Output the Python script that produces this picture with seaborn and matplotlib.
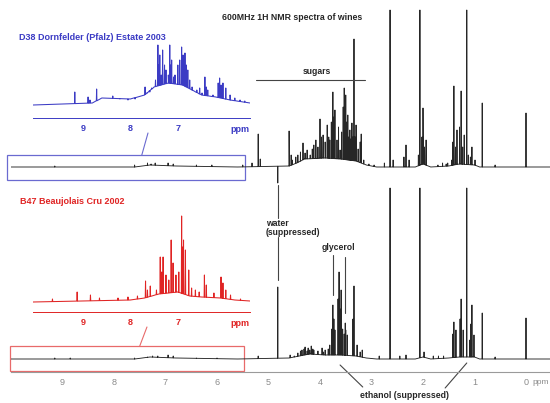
import numpy as np
import pandas as pd
import seaborn as sns
import matplotlib.pyplot as plt

# ---- data (ppm, intensity in px above baseline) ----
# top spectrum: D38 Dornfelder (Pfalz) Estate 2003, full range
top_base_ppm = [10.0, 7.6, 7.3, 6.8, 5.6, 4.6, 4.45, 4.3, 3.9, 3.6, 3.3, 3.1, 2.9,
                2.15, 2.0, 1.85, 1.5, 1.3, 1.0, 0.9, -0.47]
top_base_int = [0, 0, 2, 1, 0, 1, 4, 8, 9, 8, 6, 2, 0, 0, 3, 0, 1, 3, 2, 0, 0]
top_peak_ppm = [9.15, 7.6, 7.35, 7.28, 7.2, 6.95, 6.85, 6.4, 6.1, 5.5, 5.32, 5.20, 5.16,
                4.82, 4.60, 4.56, 4.54, 4.47, 4.43, 4.38, 4.33, 4.29, 4.25, 4.19, 4.15,
                4.12, 4.08, 4.04, 4.00, 3.97, 3.94, 3.90, 3.86, 3.83, 3.81, 3.78, 3.75,
                3.73, 3.71, 3.67, 3.64, 3.61, 3.58, 3.55, 3.53, 3.50, 3.48, 3.46, 3.44,
                3.42, 3.40, 3.38, 3.36, 3.34, 3.32, 3.30, 3.26, 3.22, 3.20, 3.15, 3.05,
                2.95, 2.75, 2.64, 2.58, 2.37, 2.33, 2.27, 2.09, 2.06, 2.02, 2.00, 1.97,
                1.94, 1.71, 1.62, 1.55, 1.52, 1.44, 1.42, 1.40, 1.37, 1.34, 1.29, 1.26,
                1.23, 1.20, 1.15, 1.12, 1.08, 1.05, 0.99, 0.85, 0.60, 0.00]
top_peak_int = [1, 2, 4, 3, 4, 4, 3, 2, 2, 2, 4, 33, 8,
                -16, 36, 12, 7, 10, 12, 15, 24, 14, 17, 12, 18,
                22, 27, 20, 48, 30, 32, 25, 42, 30, 27, 45, 75,
                50, 57, 27, 40, 17, 35, 60, 79, 72, 45, 52, 30,
                37, 28, 44, 30, 128, 30, 42, 18, 25, 33, 7, 3,
                2, 4, 157, 7, 10, 22, 7, 12, 157, 30, 59, 20,
                27, 2, 4, 3, 4, 7, 25, 81, 20, 37, 40, 76,
                20, 32, 157, 12, 10, 20, 7, 64, 2, 54]

# bottom spectrum: B47 Beaujolais Cru 2002, full range
bot_base_ppm = [10.0, 7.6, 7.3, 6.8, 5.6, 4.6, 4.4, 4.2, 3.9, 3.6, 3.3, 3.1, 2.9,
                2.15, 2.0, 1.85, 1.5, 1.3, 1.0, 0.9, -0.47]
bot_base_int = [0, 0, 2, 1, 0, 1, 3, 5, 4, 4, 3, 1, 0, 0, 2, 0, 1, 2, 2, 0, 0]
bot_peak_ppm = [9.15, 8.85, 7.6, 7.35, 7.25, 7.15, 6.95, 6.85, 6.4, 6.0, 5.20, 4.82,
                4.58, 4.50, 4.43, 4.38, 4.35, 4.31, 4.29, 4.25, 4.23, 4.20, 4.17, 4.14,
                4.12, 4.04, 3.96, 3.93, 3.90, 3.84, 3.81, 3.77, 3.75, 3.73, 3.71, 3.65,
                3.63, 3.61, 3.59, 3.56, 3.53, 3.51, 3.50, 3.47, 3.36, 3.34, 3.28, 3.22,
                3.18, 2.85, 2.64, 2.45, 2.33, 2.06, 1.98, 1.80, 1.70, 1.60, 1.42, 1.40,
                1.36, 1.28, 1.26, 1.22, 1.15, 1.09, 1.07, 1.05, 1.01, 0.85, 0.60, 0.00]
bot_peak_int = [1, 1, 1, 2, 3, 3, 4, 3, 1, 1, 3, 72,
                4, 3, 6, 8, 9, 10, 12, 8, 11, 9, 13, 10,
                9, 8, 11, 7, 9, 10, 14, 30, 54, 40, 29, 60,
                87, 50, 69, 30, 25, 36, 29, 24, 40, 73, 14, 7,
                9, 3, 171, 3, 4, 171, 7, 3, 3, 3, 25, 37,
                29, 40, 60, 29, 171, 19, 35, 54, 24, 46, 2, 41]

# insets: aromatic region 10 - 5.5 ppm, enlarged
ins_top_base_ppm = [10.05, 8.8, 8.6, 8.0, 7.7, 7.5, 7.2, 6.9, 6.7, 6.5, 6.2, 5.9, 5.48]
ins_top_base_int = [0, 2, 7, 6, 10, 18, 22, 20, 15, 10, 8, 5, 2]
ins_top_peak_ppm = [9.17, 8.89, 8.85, 8.71, 8.54, 8.37, 8.22, 8.05, 7.90, 7.69, 7.64,
                    7.59, 7.55, 7.47, 7.42, 7.40, 7.38, 7.35, 7.32, 7.28, 7.25, 7.20,
                    7.17, 7.15, 7.13, 7.09, 7.06, 7.00, 6.96, 6.92, 6.89, 6.85, 6.82,
                    6.79, 6.75, 6.70, 6.60, 6.54, 6.49, 6.43, 6.40, 6.37, 6.26, 6.15,
                    6.12, 6.09, 6.05, 5.99, 5.90, 5.80, 5.69, 5.59]
ins_top_peak_int = [13, 8, 5, 16, 7, 9, 6, 5, 6, 18, 12,
                    13, 17, 25, 60, 40, 50, 30, 55, 40, 35, 30,
                    60, 40, 45, 28, 30, 40, 45, 58, 50, 52, 40,
                    35, 25, 18, 15, 17, 12, 28, 18, 15, 10, 22,
                    27, 20, 22, 17, 10, 7, 5, 4]

ins_bot_base_ppm = [10.05, 8.0, 7.7, 7.4, 7.0, 6.75, 6.5, 6.1, 5.8, 5.48]
ins_bot_base_int = [0, 2, 4, 8, 10, 6, 5, 4, 2, 1]
ins_bot_peak_ppm = [9.64, 9.12, 8.84, 8.65, 8.26, 8.05, 7.85, 7.68, 7.64, 7.58, 7.45,
                    7.37, 7.34, 7.31, 7.25, 7.19, 7.14, 7.10, 7.04, 6.98, 6.92, 6.90,
                    6.88, 6.84, 6.77, 6.71, 6.63, 6.55, 6.44, 6.40, 6.24, 6.09, 6.05,
                    5.99, 5.89, 5.68]
ins_bot_peak_int = [3, 10, 7, 4, 4, 5, 6, 21, 12, 16, 12,
                    45, 30, 45, 27, 22, 62, 39, 27, 30, 86, 55,
                    62, 52, 32, 14, 12, 10, 27, 17, 9, 25, 19,
                    12, 7, 3]

main_ticks = [9, 8, 7, 6, 5, 4, 3, 2, 1, 0]
inset_ticks = [9, 8, 7]
zoom_range = (10.05, 5.48)

BLUE = "#3b3bc4"
RED = "#e02424"
INK = "#262626"


def trace(base_ppm, base_int, peak_ppm, peak_int, offset=0.0, half=0.003):
    # baseline with every peak drawn as a narrow spike standing on it
    rows = [(p, v) for p, v in zip(base_ppm, base_int)]
    for p, h in zip(peak_ppm, peak_int):
        foot = np.interp(-p, -np.array(base_ppm), base_int)
        rows += [(p + half, foot), (p, h), (p - half, foot)]
    df = pd.DataFrame(rows, columns=["ppm", "int"]).sort_values("ppm", ascending=False, kind="stable")
    df["int"] = df["int"] + offset
    return df


sns.set_style("white")
plt.rcParams['font.family'] = ['Liberation Sans', 'DejaVu Sans']

fig = plt.figure(figsize=(5.5, 4.03), dpi=100)
W, H = 550, 403

# main axes: pixel-like intensity units, bottom baseline 0, top offset 192
ax = fig.add_axes([11 / W, (H - 372) / H, 539 / W, 372 / H])
sns.lineplot(data=trace(top_base_ppm, top_base_int, top_peak_ppm, top_peak_int, 192),
             x="ppm", y="int", sort=False, estimator=None, color=INK, lw=0.65, ax=ax)
sns.lineplot(data=trace(bot_base_ppm, bot_base_int, bot_peak_ppm, bot_peak_int),
             x="ppm", y="int", sort=False, estimator=None, color=INK, lw=0.65, ax=ax)
ax.set_xlim(10.0, -0.466)
ax.set_ylim(-13, 359)
ax.set(xlabel="", ylabel="", yticks=[])
for s in ["top", "left", "right"]:
    ax.spines[s].set_visible(False)
ax.spines["bottom"].set_color("#9a9a9a")
ax.spines["bottom"].set_linewidth(0.8)
ax.set_xticks(main_ticks)
ax.set_xticks(np.arange(0, 10.01, 0.1), minor=True)
ax.tick_params(axis="x", which="major", direction="inout", length=5, width=0.7,
               color="#9a9a9a", labelsize=6.5, labelcolor="#8a8a8a", pad=2)
ax.tick_params(axis="x", which="minor", direction="inout", length=2.5, width=0.5,
               color="#9a9a9a")
ax.text(-0.44, -24, "ppm", fontsize=6, color="#8a8a8a", va="center", ha="right", clip_on=False)

# zoom boxes
ax.add_patch(plt.Rectangle((10.08, 179), 5.46 - 10.08, 25, fill=False, ec="#6a6ad0", lw=0.9, clip_on=False))
ax.add_patch(plt.Rectangle((10.02, -12), 5.48 - 10.02, 25, fill=False, ec="#e86a6a", lw=0.9, clip_on=False))
ax.plot([7.46, 7.34], [204, 226], color="#6a6ad0", lw=0.8, clip_on=False)
ax.plot([7.50, 7.36], [13, 32], color="#e86a6a", lw=0.8, clip_on=False)

# titles and annotations
ax.text(5.90, 342, "600MHz 1H NMR spectra of wines", fontsize=6.3, fontweight="bold",
        color=INK, va="center", ha="left")
ax.text(9.85, 322, "D38 Dornfelder (Pfalz) Estate 2003", fontsize=6.5, fontweight="bold",
        color=BLUE, va="center", ha="left")
ax.text(9.83, 157, "B47 Beaujolais Cru 2002", fontsize=6.5, fontweight="bold",
        color=RED, va="center", ha="left")
ax.text(4.06, 287, "sugars", fontsize=6.2, fontweight="bold", color=INK, va="center", ha="center")
ax.plot([5.24, 3.13], [279, 279], color="#444444", lw=0.8)
ax.text(5.05, 131, "water\n(suppressed)", fontsize=6.2, fontweight="bold", color=INK,
        va="center", ha="left", linespacing=1.0)
ax.plot([4.82, 4.82], [174, 141], color="#444444", lw=0.8)
ax.plot([4.82, 4.82], [122, 79], color="#444444", lw=0.8)
ax.text(3.96, 112, "glycerol", fontsize=6.2, fontweight="bold", color=INK, va="center", ha="left")
ax.plot([3.75, 3.75], [104, 64], color="#444444", lw=0.8)
ax.plot([3.51, 3.51], [102, 46], color="#444444", lw=0.8)
ax.text(3.22, -37, "ethanol (suppressed)", fontsize=6.3, fontweight="bold", color=INK,
        va="center", ha="left", clip_on=False)
ax.plot([3.61, 3.17], [-6, -28], color="#444444", lw=0.8, clip_on=False)
ax.plot([1.57, 1.15], [-29, -4], color="#444444", lw=0.8, clip_on=False)


def inset(rect, base_ppm, base_int, peak_ppm, peak_int, ylim, color):
    a = fig.add_axes(rect)
    sns.lineplot(data=trace(base_ppm, base_int, peak_ppm, peak_int, half=0.006),
                 x="ppm", y="int", sort=False, estimator=None, color=color, lw=0.75, ax=a)
    a.set_xlim(*zoom_range)
    a.set_ylim(*ylim)
    a.set(xlabel="", ylabel="", yticks=[])
    a.patch.set_alpha(0)
    for s in ["top", "left", "right"]:
        a.spines[s].set_visible(False)
    a.spines["bottom"].set_color(color)
    a.spines["bottom"].set_linewidth(0.7)
    a.set_xticks(inset_ticks)
    a.set_xticks(np.arange(5.5, 10.01, 0.1), minor=True)
    a.tick_params(axis="x", which="major", direction="inout", length=4, width=0.7, color=color,
                  labelsize=6.5, labelcolor=color, pad=2.5)
    a.tick_params(axis="x", which="minor", direction="inout", length=2, width=0.5, color=color)
    for lab in a.get_xticklabels():
        lab.set_fontweight("bold")
    a.text(5.7, ylim[0] - 12, "ppm", fontsize=6.5, fontweight="bold", color=color,
           va="center", ha="center", clip_on=False)
    return a


inset([33 / W, (H - 118) / H, 217 / W, 80 / H], ins_top_base_ppm, ins_top_base_int,
      ins_top_peak_ppm, ins_top_peak_int, (-13, 67), BLUE)
inset([33 / W, (H - 312) / H, 217 / W, 102 / H], ins_bot_base_ppm, ins_bot_base_int,
      ins_bot_peak_ppm, ins_bot_peak_int, (-10, 92), RED)

fig.savefig("out.png", dpi=100)
